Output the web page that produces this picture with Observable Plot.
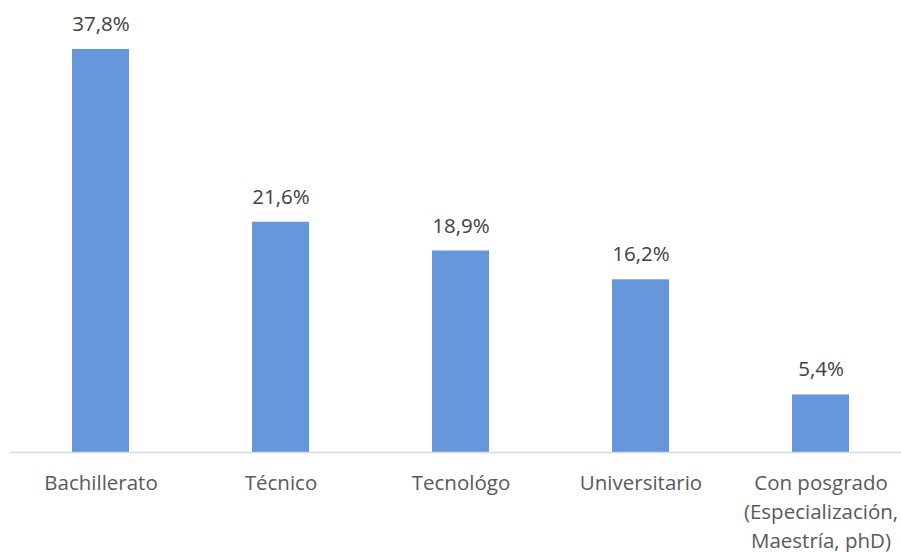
<!DOCTYPE html>
<html>
<head>
<meta charset="utf-8">
<script src="https://cdn.jsdelivr.net/npm/d3@7"></script>
<script src="https://cdn.jsdelivr.net/npm/@observablehq/plot@0.6"></script>
<style>
  html, body { margin: 0; padding: 0; background: #fff; }
  svg { display: block; }
</style>
</head>
<body>
<div id="chart"></div>
<script>
const categories = ["Bachillerato", "Técnico", "Tecnológo", "Universitario", "Con posgrado\n(Especialización,\nMaestría, phD)"];
const values = [37.8, 21.6, 18.9, 16.2, 5.4];
const valueLabels = ["37,8%", "21,6%", "18,9%", "16,2%", "5,4%"];

const data = categories.map((c, i) => ({cat: c, v: values[i], label: valueLabels[i]}));

const chart = Plot.plot({
  width: 901,
  height: 552,
  marginLeft: 10,
  marginRight: 0,
  marginTop: 0,
  marginBottom: 100,
  style: {fontFamily: "'Open Sans', sans-serif", background: "#fff"},
  x: {domain: categories, range: [10, 911], paddingInner: 0.684, paddingOuter: 0.342, axis: null},
  y: {domain: [0, 37.8], range: [452, 49], axis: null},
  marks: [
    Plot.barY(data, {x: "cat", y: "v", fill: "#6797db"}),
    Plot.ruleY([0], {stroke: "#d9d9d9", strokeWidth: 1.5}),
    Plot.text(data, {x: "cat", y: "v", text: "label", dy: -25, fontSize: 20.5, fill: "#404040", lineAnchor: "middle"}),
    Plot.text(data, {x: "cat", y: 0, text: "cat", dy: 17, fontSize: 20.5, fill: "#595959", lineAnchor: "top", lineHeight: 1.42})
  ]
});
document.getElementById("chart").appendChild(chart);
</script>
</body>
</html>
